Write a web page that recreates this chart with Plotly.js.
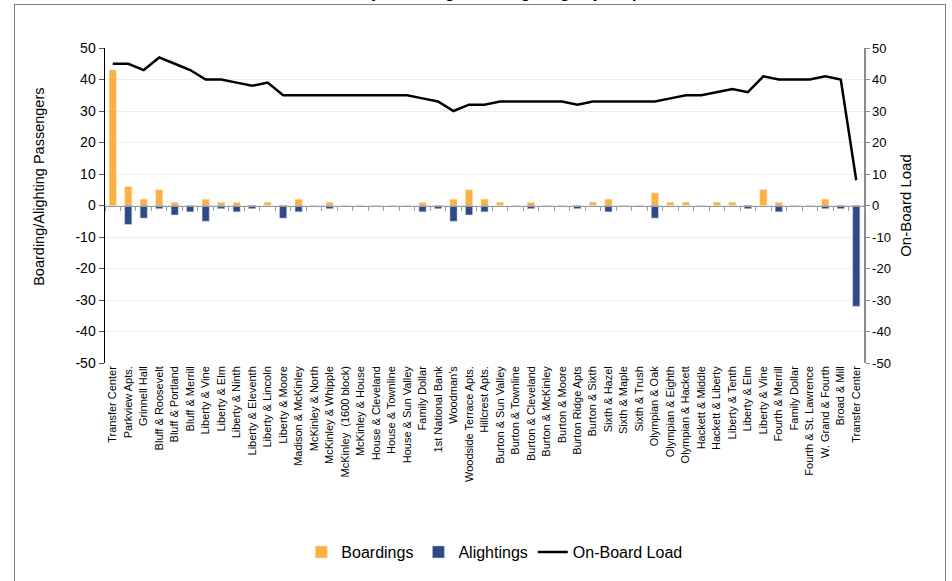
<!DOCTYPE html>
<html>
<head>
<meta charset="utf-8">
<script src="https://cdn.plot.ly/plotly-3.0.1.min.js"></script>
<style>
  html, body { margin: 0; padding: 0; background: #fff; width: 952px; height: 581px; overflow: hidden; }
  #frame { position: absolute; left: 14px; top: 4px; width: 932px; height: 620px; border: 1px solid #7f7f7f; box-sizing: border-box; }
  #chart { position: absolute; left: 0; top: 0; width: 952px; height: 581px; }
</style>
</head>
<body>
<div id="frame"></div>
<div id="chart"></div>
<script>
const stops = [
  "Transfer Center", "Parkview Apts.", "Grinnell Hall", "Bluff & Roosevelt", "Bluff & Portland",
  "Bluff & Merrill", "Liberty & Vine", "Liberty & Elm", "Liberty & Ninth", "Liberty & Eleventh",
  "Liberty & Lincoln", "Liberty & Moore", "Madison & McKinley", "McKinley & North", "McKinley & Whipple",
  "McKinley  (1600 block)", "McKinley & House", "House & Cleveland", "House & Townline", "House & Sun Valley",
  "Family Dollar", "1st National Bank", "Woodman's", "Woodside Terrace Apts.", "Hillcrest Apts.",
  "Burton & Sun Valley", "Burton & Townline", "Burton & Cleveland", "Burton & McKinley", "Burton & Moore",
  "Burton Ridge Apts", "Burton & Sixth", "Sixth & Hazel", "Sixth & Maple", "Sixth & Trush",
  "Olympian & Oak", "Olympian & Eighth", "Olympian & Hackett", "Hackett & Middle", "Hackett & Liberty",
  "Liberty & Tenth", "Liberty & Elm", "Liberty & Vine", "Fourth & Merrill", "Family Dollar",
  "Fourth & St. Lawrence", "W. Grand & Fourth", "Broad & Mill", "Transfer Center"
];
const boardings = [
  43, 6, 2, 5, 1, 0, 2, 1, 1, 0,
  1, 0, 2, 0, 1, 0, 0, 0, 0, 0,
  1, 0, 2, 5, 2, 1, 0, 1, 0, 0,
  0, 1, 2, 0, 0, 4, 1, 1, 0, 1,
  1, 0, 5, 1, 0, 0, 2, 0, 0
];
const alightings = [
  0, -6, -4, -1, -3, -2, -5, -1, -2, -1,
  0, -4, -2, 0, -1, 0, 0, 0, 0, 0,
  -2, -1, -5, -3, -2, 0, 0, -1, 0, 0,
  -1, 0, -2, 0, 0, -4, 0, 0, 0, 0,
  0, -1, 0, -2, 0, 0, -1, -1, -32
];
const onBoardLoad = [
  45, 45, 43, 47, 45, 43, 40, 40, 39, 38,
  39, 35, 35, 35, 35, 35, 35, 35, 35, 35,
  34, 33, 30, 32, 32, 33, 33, 33, 33, 33,
  32, 33, 33, 33, 33, 33, 34, 35, 35, 36,
  37, 36, 41, 40, 40, 40, 41, 40, 8
];
const yTicks = [50, 40, 30, 20, 10, 0, -10, -20, -30, -40, -50];

const xIdx = stops.map((_, i) => i);
const boundaries = stops.map((_, i) => i - 0.5).concat([stops.length - 0.5]);

const fontMain = "Liberation Sans, Arial, sans-serif";
const fontNarrow = "Liberation Sans Narrow, Arial Narrow, Liberation Sans, Arial, sans-serif";

const traces = [
  { type: "bar", name: "Boardings", x: xIdx, y: boardings, width: 0.46,
    marker: { color: "#FDB042", line: { color: "#FFE2B0", width: 0.5 } }, yaxis: "y", xaxis: "x" },
  { type: "bar", name: "Alightings", x: xIdx, y: alightings, width: 0.46,
    marker: { color: "#2E4A86", line: { color: "#C9D1E3", width: 0.5 } }, yaxis: "y", xaxis: "x" },
  { type: "scatter", mode: "lines", name: "On-Board Load", x: xIdx, y: onBoardLoad,
    line: { color: "#000000", width: 2.5 }, yaxis: "y2", xaxis: "x" },
  { type: "scatter", mode: "lines", x: [], y: [], xaxis: "x2", yaxis: "y", showlegend: false, hoverinfo: "skip" }
];

const layout = {
  width: 952, height: 581,
  paper_bgcolor: "rgba(0,0,0,0)", plot_bgcolor: "rgba(0,0,0,0)",
  margin: { l: 105, r: 88, t: 48, b: 216 },
  barmode: "relative",
  bargap: 0.5,
  showlegend: true,
  font: { family: fontMain, size: 13, color: "#000" },
  legend: { orientation: "h", x: 0.513, xanchor: "center", y: -0.6, yanchor: "middle",
            font: { family: fontMain, size: 16, color: "#000" }, itemwidth: 30, tracegroupgap: 0 },
  xaxis: {
    range: [-0.5, stops.length - 0.5], tickmode: "array", tickvals: xIdx, ticktext: stops,
    tickangle: -90, tickfont: { family: fontNarrow, size: 11, color: "#000" },
    showgrid: false, zeroline: false, showline: false, ticks: "", fixedrange: true
  },
  xaxis2: {
    overlaying: "x", anchor: "free", position: 0.5,
    range: [-0.5, stops.length - 0.5], tickmode: "array", tickvals: boundaries,
    showticklabels: false, ticks: "outside", ticklen: 4, tickcolor: "#9a9a9a", tickwidth: 1,
    showline: true, linecolor: "#9a9a9a", linewidth: 1.5, showgrid: false, zeroline: false
  },
  yaxis: {
    range: [-50, 50], tickmode: "array", tickvals: yTicks, ticktext: yTicks.map(String),
    showline: true, linecolor: "#000", linewidth: 1.5, ticks: "outside", ticklen: 5, tickcolor: "#555",
    showgrid: true, gridcolor: "#ececec", gridwidth: 1, zeroline: false,
    tickfont: { family: fontMain, size: 14, color: "#000" }
  },
  yaxis2: {
    overlaying: "y", side: "right", anchor: "x",
    range: [-50, 50], tickmode: "array", tickvals: yTicks, ticktext: yTicks.map(String),
    showline: true, linecolor: "#8c8c8c", linewidth: 1.5, ticks: "outside", ticklen: 4, tickcolor: "#8c8c8c",
    showgrid: false, zeroline: false,
    tickfont: { family: fontMain, size: 13, color: "#000" },
    title: { text: "On-Board Load", font: { family: fontMain, size: 15, color: "#000" }, standoff: 10 }
  },
  annotations: [
    {
      text: "<b>Weekday Boardings and Alightings by Stop</b>",
      xref: "paper", yref: "paper", x: 0.49, y: 1, xanchor: "center", yanchor: "bottom",
      yshift: 45, showarrow: false, font: { family: fontMain, size: 16, color: "#000" }
    },
    {
      text: "Boarding/Alighting Passengers", textangle: -90,
      xref: "paper", yref: "paper", x: -0.088, y: 0.56, xanchor: "center", yanchor: "middle",
      showarrow: false, font: { family: fontMain, size: 14.5, color: "#000" }
    }
  ]
};

Plotly.newPlot("chart", traces, layout, { displayModeBar: false, staticPlot: true });
</script>
</body>
</html>
